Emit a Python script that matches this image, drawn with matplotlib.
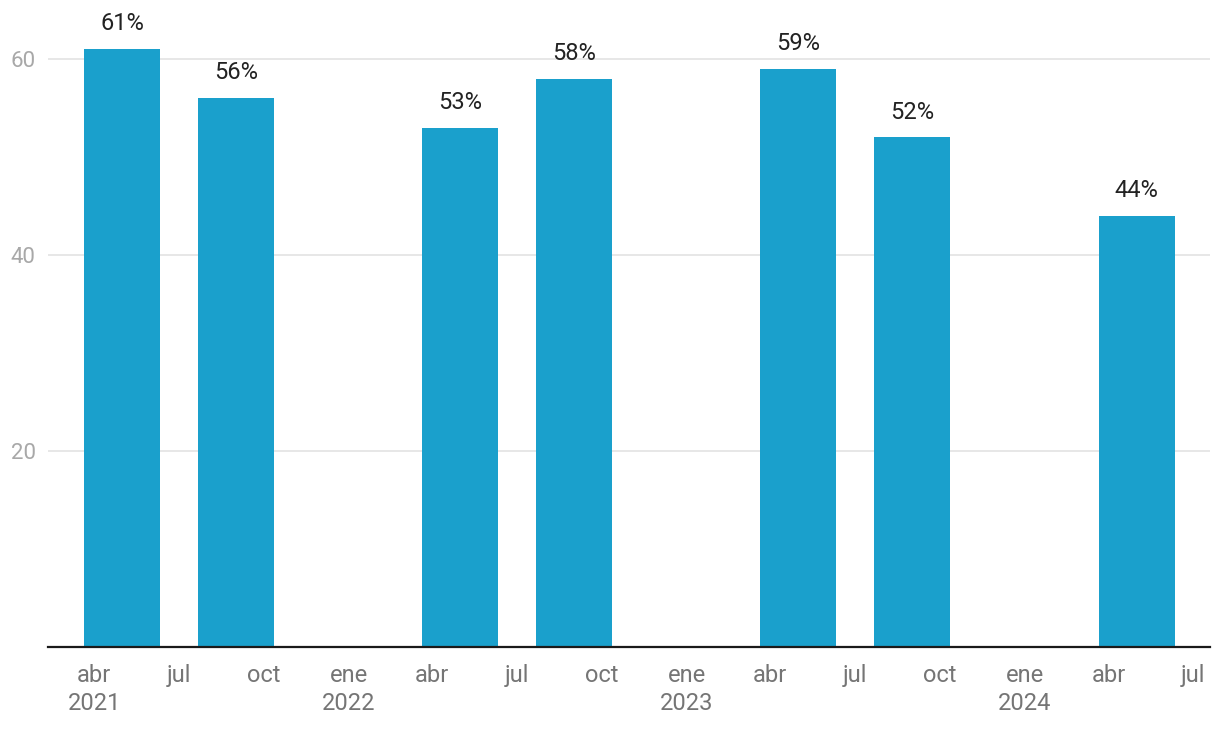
import matplotlib
matplotlib.use("Agg")
import matplotlib.pyplot as plt
import datetime as dt

plt.rcParams['font.family'] = ['Roboto', 'DejaVu Sans']

dates = ["2021-05-01", "2021-09-01", "2022-05-01", "2022-09-01",
         "2023-05-01", "2023-09-01", "2024-05-01"]
values = [61, 56, 53, 58, 59, 52, 44]
tick_dates = ["2021-04-01", "2021-07-01", "2021-10-01", "2022-01-01",
              "2022-04-01", "2022-07-01", "2022-10-01", "2023-01-01",
              "2023-04-01", "2023-07-01", "2023-10-01", "2024-01-01",
              "2024-04-01", "2024-07-01"]
tick_labels = ["abr\n2021", "jul", "oct", "ene\n2022", "abr", "jul", "oct",
               "ene\n2023", "abr", "jul", "oct", "ene\n2024", "abr", "jul"]
y_ticks = [20, 40, 60]

to_d = lambda s: dt.datetime.strptime(s, "%Y-%m-%d")
x = [to_d(d) for d in dates]

fig = plt.figure(figsize=(12.2, 7.34), dpi=100)
ax = fig.add_axes([48/1220, 1-647/734, (1210-48)/1220, 637/734])

ax.bar(x, values, width=82, color='#1aa0cc', zorder=3)
for xi, v in zip(x, values):
    ax.annotate(f"{v}%", (xi, v), xytext=(0, 10), textcoords='offset points',
                ha='center', va='bottom', fontsize=17, color='#222222')

ax.set_xlim(to_d("2021-02-10"), to_d("2024-07-19"))
ax.set_ylim(0, 65)
ax.set_xticks([to_d(d) for d in tick_dates])
ax.set_xticklabels(tick_labels, linespacing=1.3)
ax.set_yticks(y_ticks)
ax.tick_params(axis='x', length=0, pad=12, labelsize=17, labelcolor='#757575')
ax.tick_params(axis='y', length=0, pad=9, labelsize=16, labelcolor='#a8a8a8')
ax.grid(axis='y', color='#e3e3e3', linewidth=1.2, zorder=0)
for s in ['left', 'right', 'top']:
    ax.spines[s].set_visible(False)
ax.spines['bottom'].set_color('#1a1a1a')
ax.spines['bottom'].set_linewidth(1.6)
ax.spines['bottom'].set_zorder(4)

fig.savefig("out.png", dpi=100)
